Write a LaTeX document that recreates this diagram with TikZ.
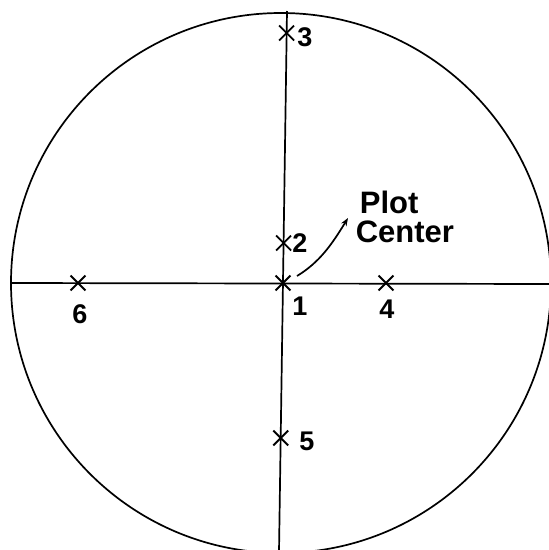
\documentclass[tikz,border=0pt]{standalone}
\usepackage{fontspec}
\setmainfont{Liberation Sans}
\usetikzlibrary{shapes.misc,arrows.meta}
\begin{document}
\begin{tikzpicture}[x=1pt,y=-1pt,
  line width=1.7pt,
  xmark/.style={draw,cross out,minimum size=13pt,inner sep=0pt,line width=1.9pt},
  lbl/.style={font=\fontsize{27}{30}\selectfont\bfseries,inner sep=0pt},
  big/.style={font=\fontsize{31}{34}\selectfont\bfseries,inner sep=0pt}]
\useasboundingbox (0,0) rectangle (549,550);
\begin{scope}
\clip (0,0) rectangle (549,550);
\draw (281,283) circle[radius=270];
\draw (12,283) -- (551,284);
\draw (287,11) -- (279,552);
\end{scope}
% points
\node[xmark] (p3) at (286.6,33) {};
\node[xmark] (p2) at (283.6,243) {};
\node[xmark] (p1) at (283,283) {};
\node[xmark] (p4) at (386,283) {};
\node[xmark] (p6) at (78,283) {};
\node[xmark] (p5) at (280.7,438) {};
% labels
\node[lbl] (l3) at (305,37) {3};
\node[lbl] (l2) at (300,243) {2};
\node[lbl] (l1) at (300,306) {1};
\node[lbl] (l4) at (387,309) {4};
\node[lbl] (l6) at (80,314) {6};
\node[lbl] (l5) at (307,441) {5};
\node[big,anchor=west] (plot) at (359,202) {Plot};
\node[big,anchor=west] (center) at (355,232) {Center};
% arrow
\coordinate (a0) at (297,276);
\coordinate (a1) at (348,218);
\draw[-{Stealth[length=8pt,width=6pt]}] (a0) .. controls (320,262) and (332,244) .. (a1);
\end{tikzpicture}
\end{document}
